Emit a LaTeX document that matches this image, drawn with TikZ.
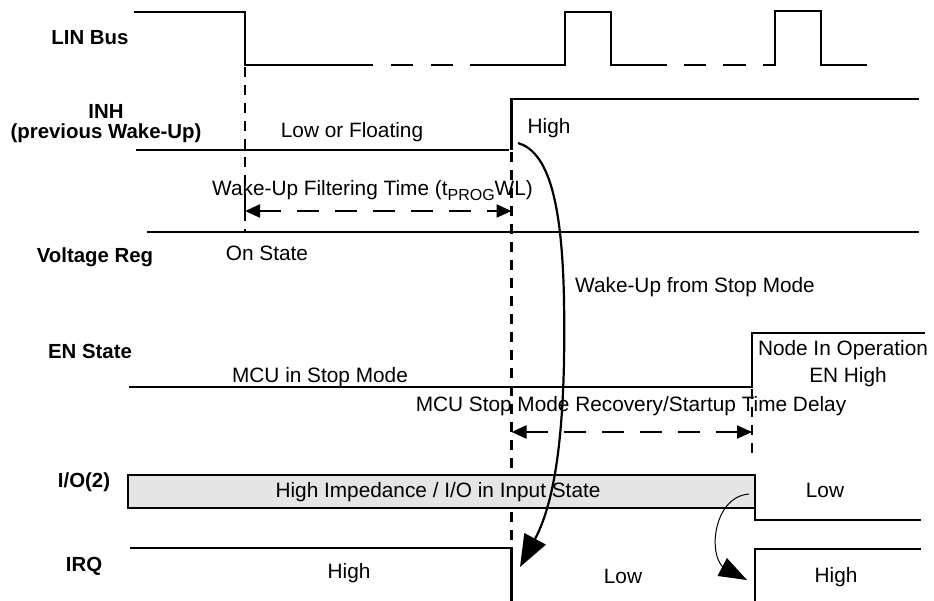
\documentclass[tikz,border=0pt]{standalone}
\usepackage{fontspec}
\setmainfont{Liberation Sans}
\usetikzlibrary{arrows.meta}
\begin{document}
\begin{tikzpicture}[x=1pt,y=-1pt,
  sig/.style={line width=2.2pt, line join=miter},
  vdash/.style={line width=2.2pt, dash pattern=on 10pt off 8pt},
  harrow/.style={line width=2.2pt, dash pattern=on 22pt off 16pt, {Triangle[length=15pt,width=13pt]}-{Triangle[length=15pt,width=13pt]}},
  lbl/.style={font=\fontsize{20.4}{24}\selectfont\bfseries, anchor=base, inner sep=0pt},
  txt/.style={font=\fontsize{20.8}{24}\selectfont, anchor=base, inner sep=0pt}]
\useasboundingbox (0,0) rectangle (934,600);
\clip (0,0) rectangle (934,600);

% ---------- LIN Bus ----------
\draw[sig] (134,12) -- (245,12) -- (245,65) -- (373,65);
\draw[sig] (391,65) -- (413,65);
\draw[sig] (431,65) -- (453,65);
\draw[sig] (470,65) -- (565,65) -- (565,12) -- (611,12) -- (611,65) -- (667,65);
\draw[sig] (684,65) -- (706,65);
\draw[sig] (723,65) -- (746,65);
\draw[sig] (763,65) -- (775,65) -- (775,11) -- (821,11) -- (821,65) -- (867,65);
\node[lbl] (lin) at (90,44) {LIN Bus};

% ---------- INH ----------
\draw[sig] (136,150) -- (509,150);
\draw[sig] (511.5,150) -- (511.5,99) -- (919,99);
\node[lbl] (inh1) at (106,118) {INH};
\node[lbl] (inh2) at (106,138) {(previous Wake-Up)};
\node[txt] (lowfl) at (352,137) {Low or Floating};
\node[txt] (inhhigh) at (549,133) {High};

% ---------- dashed verticals ----------
\draw[vdash] (245,67) -- (245,232);
\draw[vdash] (511.5,152) -- (511.5,548);
\draw[vdash] (752,389) -- (752,458);

% ---------- wake-up filtering time ----------
\node[txt, anchor=base west] (wft) at (212,195) {Wake-Up Filtering Time (t\raisebox{-5pt}{\fontsize{16}{18}\selectfont PROG}WL)};
\coordinate (wa) at (245,211);
\coordinate (wb) at (511.5,211);
\draw[harrow] (wa) -- (wb);
\draw[line width=2.2pt] (245,203) -- (245,218);

% ---------- Voltage Reg ----------
\draw[sig] (147,232) -- (919,232);
\node[lbl] (vreg) at (95,262) {Voltage Reg};
\node[txt] (onst) at (267,260) {On State};
\node[txt] (wufs) at (695,292) {Wake-Up from Stop Mode};

% ---------- EN State ----------
\draw[sig] (129,387) -- (752,387) -- (752,333) -- (925,333);
\node[lbl] (en) at (90,358) {EN State};
\node[txt] (mcustop) at (320,382) {MCU in Stop Mode};
\node[txt] (nodeop) at (843,355) {Node In Operation};
\node[txt] (enhigh) at (848,382) {EN High};

% ---------- recovery delay ----------
\node[txt] (recov) at (631,411) {MCU Stop Mode Recovery/Startup Time Delay};
\coordinate (ra) at (511.5,432);
\coordinate (rb) at (752,432);
\draw[harrow] (ra) -- (rb);

% ---------- I/O(2) ----------
\draw[line width=2.2pt, fill=black!10] (128,475) rectangle (755,508);
\node[txt] (hiz) at (438,497) {High Impedance / I/O in Input State};
\draw[sig] (755,508) -- (755,520) -- (921,520);
\node[lbl] (io) at (84,487) {I/O(2)};
\node[txt] (iolow) at (825,497) {Low};

% ---------- IRQ ----------
\draw[sig] (130,548) -- (511.5,548) -- (511.5,602);
\draw[sig] (755,602) -- (755,549) -- (921,549);
\node[lbl] (irq) at (84,571) {IRQ};
\node[txt] (irqh1) at (349,578) {High};
\node[txt] (irql) at (623,583) {Low};
\node[txt] (irqh2) at (836,582) {High};

% ---------- curved arrows ----------
\coordinate (c1s) at (518,143);
\coordinate (c1e) at (520,567);
\draw[line width=2.2pt, -{Triangle[length=32pt,width=24pt]}]
  (c1s) .. controls (548,152) and (562,200) .. (564,300)
        .. controls (566,420) and (557,498) .. (c1e);
\coordinate (c2s) at (749,494);
\coordinate (c2e) at (747,580);
\draw[line width=1pt, -{Triangle[length=28pt,width=20pt]}]
  (c2s) .. controls (722,496) and (712,530) .. (716,552)
        .. controls (718,565) and (726,569) .. (c2e);
\end{tikzpicture}
\end{document}
